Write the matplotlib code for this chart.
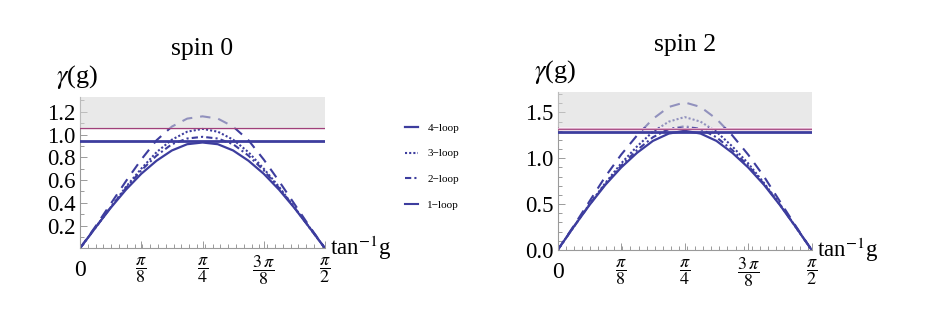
import numpy as np
import matplotlib
matplotlib.use("Agg")
import matplotlib.pyplot as plt
from matplotlib.lines import Line2D
from matplotlib.ticker import MultipleLocator

plt.rcParams['font.family'] = ['Liberation Serif', 'DejaVu Serif']
plt.rcParams['mathtext.fontset'] = 'stix'

# x = tan^-1 g, sampled every pi/32 from 0 to pi/2
theta = [k * np.pi / 32 for k in range(17)]

# spin 0
s0_loop4 = [0, 0.18, 0.355, 0.515, 0.655, 0.77, 0.86, 0.915, 0.93,
            0.915, 0.86, 0.77, 0.655, 0.515, 0.355, 0.18, 0]
s0_loop3 = [0, 0.18, 0.36, 0.54, 0.70, 0.845, 0.955, 1.025, 1.05,
            1.025, 0.955, 0.845, 0.70, 0.54, 0.36, 0.18, 0]
s0_loop2 = [0, 0.18, 0.36, 0.53, 0.685, 0.815, 0.915, 0.965, 0.98,
            0.965, 0.915, 0.815, 0.685, 0.53, 0.36, 0.18, 0]
s0_loop1 = [0, 0.19, 0.39, 0.59, 0.78, 0.95, 1.07, 1.14, 1.16,
            1.14, 1.07, 0.95, 0.78, 0.59, 0.39, 0.19, 0]
s0_hlines = [0.94, 1.06]
s0_band = [1.06, 1.33]

# spin 2
s2_loop4 = [0, 0.25, 0.49, 0.71, 0.90, 1.06, 1.19, 1.27, 1.30,
            1.27, 1.19, 1.06, 0.90, 0.71, 0.49, 0.25, 0]
s2_loop3 = [0, 0.25, 0.50, 0.73, 0.945, 1.13, 1.29, 1.40, 1.45,
            1.40, 1.29, 1.13, 0.945, 0.73, 0.50, 0.25, 0]
s2_loop2 = [0, 0.25, 0.495, 0.72, 0.92, 1.09, 1.23, 1.32, 1.35,
            1.32, 1.23, 1.09, 0.92, 0.72, 0.495, 0.25, 0]
s2_loop1 = [0, 0.26, 0.53, 0.80, 1.04, 1.25, 1.43, 1.56, 1.61,
            1.56, 1.43, 1.25, 1.04, 0.80, 0.53, 0.26, 0]
s2_hlines = [1.285, 1.315, 1.33]
s2_band = [1.34, 1.72]

xtick_vals = [0, np.pi / 8, np.pi / 4, 3 * np.pi / 8, np.pi / 2]
xtick_labels = ['0', r'$\dfrac{\pi}{8}$', r'$\dfrac{\pi}{4}$', r'$\dfrac{3\,\pi}{8}$', r'$\dfrac{\pi}{2}$']

blue = '#3d3d9e'
styles = {
    '4': dict(ls='-', lw=1.6),
    '3': dict(ls=(0, (1, 1)), lw=1.5),
    '2': dict(ls=(0, (3, 1.5, 1, 1.5)), lw=1.5),
    '1': dict(ls=(0, (5, 3.8)), lw=1.5),
}

fig = plt.figure(figsize=(9.27, 3.13), dpi=100)
ax0 = fig.add_axes([0.0863, 0.2067, 0.2643, 0.4834])
ax2 = fig.add_axes([0.6016, 0.2013, 0.2740, 0.5038])


def draw(ax, loops, hlines, hcolors, hwidths, band, yticks, yminor, title):
    for key, vals in zip(['4', '3', '2', '1'], loops):
        ax.plot(theta, vals, color=blue, zorder=2, **styles[key])
    for y, c, w in zip(hlines, hcolors, hwidths):
        ax.axhline(y, color=c, lw=w, zorder=3)
    ax.axhspan(band[0], band[1], color='#d8d8d8', alpha=0.55, lw=0, zorder=4)
    ax.set_xlim(0, np.pi / 2)
    ax.set_ylim(0, band[1])
    ax.set_xticks(xtick_vals)
    ax.set_xticklabels(xtick_labels, fontsize=13)
    labs = ax.get_xticklabels()
    labs[0].set_fontsize(17)
    for lab in labs:
        lab.set_va('center')
    ax.xaxis.set_minor_locator(MultipleLocator(0.05))
    ax.set_yticks(yticks)
    ax.set_yticklabels(['%.1f' % t for t in yticks], fontsize=16.5)
    ax.yaxis.set_minor_locator(MultipleLocator(yminor))
    for s in ['top', 'right']:
        ax.spines[s].set_visible(False)
    for s in ['left', 'bottom']:
        ax.spines[s].set_color('#9a9a9a')
        ax.spines[s].set_linewidth(0.8)
    ax.tick_params(which='both', direction='in', color='#9a9a9a', width=0.7)
    ax.tick_params(which='major', length=5)
    ax.tick_params(which='minor', length=3)
    ax.tick_params(axis='x', which='major', pad=16)
    ax.tick_params(axis='y', which='major', pad=3)
    ax.set_title(title, fontsize=18.5, pad=30)
    ax.text(-0.01, 1.04, r'$\gamma$(g)', transform=ax.transAxes, fontsize=19,
            ha='center', va='bottom')
    ax.text(1.02, 0.0, r'tan$^{-1}$g', transform=ax.transAxes, fontsize=16.5,
            ha='left', va='center')


draw(ax0, [s0_loop4, s0_loop3, s0_loop2, s0_loop1], s0_hlines,
     [blue, '#a0407a'], [2.0, 1.0], s0_band,
     [0.2, 0.4, 0.6, 0.8, 1.0, 1.2], 0.1, 'spin 0')
draw(ax2, [s2_loop4, s2_loop3, s2_loop2, s2_loop1], s2_hlines,
     [blue, '#a0407a', '#d9aac8'], [2.0, 1.0, 1.0], s2_band,
     [0.0, 0.5, 1.0, 1.5], 0.1, 'spin 2')

handles = [Line2D([], [], color=blue, **styles[k]) for k in ['4', '3', '2']]
handles.append(Line2D([], [], color=blue, ls='-', lw=1.5))
fig.legend(handles, ['4\u2212loop', '3\u2212loop', '2\u2212loop', '1\u2212loop'],
           loc='center left', bbox_to_anchor=(0.437, 0.468), frameon=False,
           fontsize=8, handlelength=1.2, handletextpad=0.8,
           labelspacing=1.45, borderpad=0, borderaxespad=0)

fig.savefig('out.png', dpi=100)
